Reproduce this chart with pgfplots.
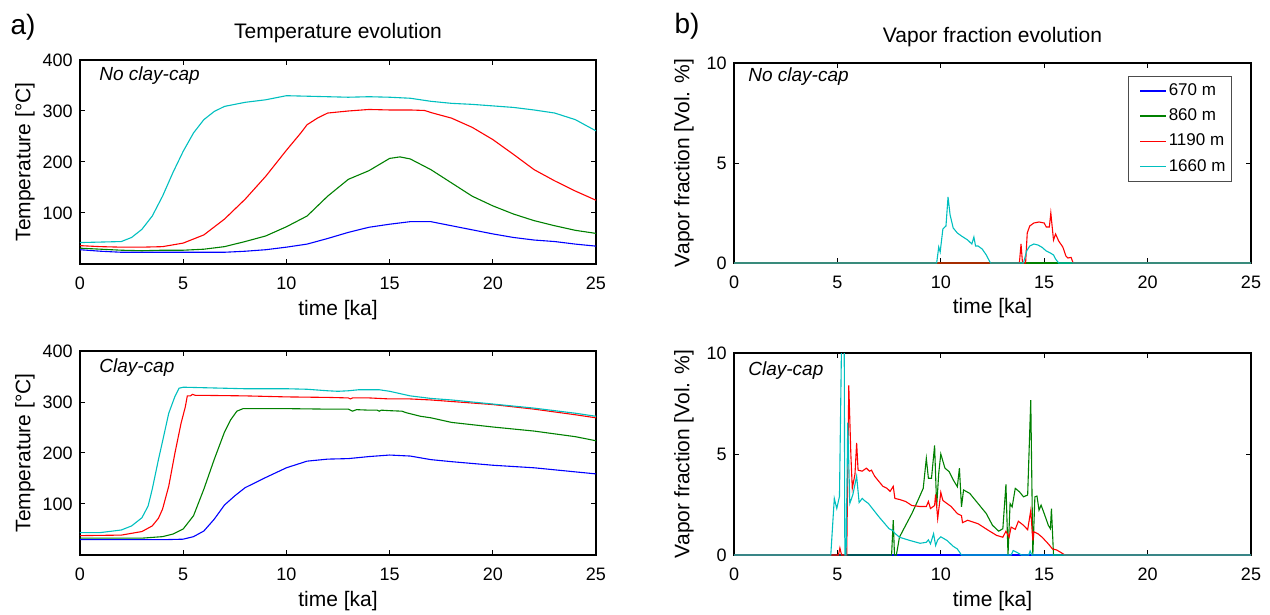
\documentclass[border=0pt]{standalone}
\usepackage{fontspec}
\setmainfont{Liberation Sans}
\usepackage{pgfplots}
\pgfplotsset{compat=1.18}
\definecolor{mblue}{rgb}{0,0,1}
\definecolor{mgreen}{rgb}{0,0.5,0}
\definecolor{mred}{rgb}{1,0,0}
\definecolor{mcyan}{rgb}{0,0.75,0.75}
\tikzset{tag/.style={anchor=west, inner sep=0pt, font=\itshape\fontsize{9.5}{11}\selectfont}}
\pgfplotsset{
  panel/.style={
    scale only axis, anchor=north west,
    xmin=0, xmax=25, xtick={0,5,10,15,20,25},
    tick align=inside, tick pos=both,
    major tick length=2.5pt,
    every tick/.style={black, line width=0.5pt},
    axis line style={line width=0.75pt},
    /pgf/number format/assume math mode=true,
    ticklabel style={font=\fontsize{9}{10}\selectfont},
    xticklabel style={anchor=north, inner sep=0pt, yshift=-6.3pt},
    yticklabel style={anchor=east, inner sep=0pt, xshift=-3.5pt},
    label style={font=\fontsize{10.5}{12}\selectfont},
    title style={font=\fontsize{10.5}{12}\selectfont, at={(rel axis cs:0.5,1.072)}, anchor=center},
    every axis plot/.append style={line width=0.55pt},
    xlabel={time [ka]},
    xlabel style={at={(rel axis cs:0.5,-0.226)}, anchor=center},
  },
  tpanel/.style={panel, ymin=0, ymax=400, ytick={100,200,300,400},
    ylabel={Temperature [°C]},
    ylabel style={at={(rel axis cs:-0.1066,0.5)}, anchor=center}},
  vpanel/.style={panel, ymin=0, ymax=10, ytick={0,5,10},
    ylabel={Vapor fraction [Vol. \%]},
    ylabel style={at={(rel axis cs:-0.0967,0.5)}, anchor=center}},
}
\begin{document}
\begin{tikzpicture}
\path[use as bounding box] (0,0) rectangle (635pt,-307.5pt);
\node[font=\fontsize{14}{16}\selectfont] at (11.5pt,-13.5pt) {a)};
\node[font=\fontsize{14}{16}\selectfont] at (343.5pt,-13pt) {b)};

% ---------- top left
\begin{axis}[tpanel, at={(40pt,-30pt)}, width=258pt, height=102pt,
  title={Temperature evolution}]
\addplot[mblue] coordinates {(0,28) (1,25) (2,23) (4,23) (6,23) (7,23) (8,25) (9,28) (10,33) (11,39) (12,50) (13,62) (14,72) (15,78) (16,83) (17,83) (18,75) (19,67) (20,59) (21,52) (22,47) (23,44) (24,39) (25,35)};
\addplot[mgreen] coordinates {(0,31) (1,29) (2,27) (3,26) (4,27) (5,27) (6,29) (7,34) (8,44) (9,55) (10,73) (11,94) (12,133) (13,166) (14,183) (14.5,195) (15,207) (15.5,210) (16,206) (17,185) (18,159) (19,133) (20,114) (21,98) (22,85) (23,75) (24,66) (25,60)};
\addplot[mred] coordinates {(0,36) (1,34) (2,33) (3,33) (4,34) (5,41) (6,57) (7,88) (8,127) (9,172) (10,223) (10.7,257) (11,273) (11.5,286) (12,296) (13,300) (14,303) (15,302) (16,302) (16.7,301) (17,297) (18,286) (19,268) (20,244) (21,215) (22,185) (23,163) (24,143) (25,125)};
\addplot[mcyan] coordinates {(0,42) (2,44) (2.5,52) (3,68) (3.5,94) (4,133) (4.5,179) (5,221) (5.5,257) (6,283) (6.5,299) (7,309) (8,317) (9,322) (10,330) (11,329) (12,328) (13,327) (14,328) (15,327) (16,325) (17,319) (18,315) (19,313) (20,310) (21,307) (22,302) (23,296) (24,283) (25,261)};
\node[tag] at (rel axis cs:0.0368,0.926) {No clay-cap};
\end{axis}

% ---------- top right
\begin{axis}[vpanel, at={(367pt,-31.5pt)}, width=258.5pt, height=100pt,
  title={Vapor fraction evolution},
  legend style={at={(rel axis cs:0.963,0.935)}, anchor=north east,
    draw=black!70, font=\fontsize{8.5}{10}\selectfont,
    inner xsep=2pt, inner ysep=2.5pt, row sep=3.2pt,
    nodes={inner sep=1pt}},
  legend cell align=left,
  legend image code/.code={\draw[draw=none] (-4pt,-1pt) rectangle (13pt,1pt); \draw[#1] (0pt,0pt) -- (13pt,0pt);},
  legend image post style={line width=0.7pt}]
\addplot[mblue] coordinates {(0,0) (25,0)};
\addlegendentry{670 m}
\addplot[mgreen] coordinates {(0,0) (25,0)};
\addlegendentry{860 m}
\addplot[color=mred] coordinates {(0,0) (13.8,0) (13.88,0.95) (13.95,0) (14.1,0) (14.18,1.5) (14.3,1.85) (14.5,2.0) (14.75,2.05) (15.0,2.0) (15.1,1.8) (15.25,1.8) (15.32,2.5) (15.45,1.15) (15.55,1.45) (15.7,1.1) (15.9,0.8) (16.05,0.35) (16.15,0.25) (16.3,0.28) (16.4,0) (25,0)};
\addlegendentry{1190 m}
\addplot[mcyan] coordinates {(0,0) (9.8,0) (9.9,0.8) (9.97,0.55) (10.1,1.7) (10.25,1.85) (10.35,3.3) (10.45,2.4) (10.6,1.75) (10.8,1.5) (11.0,1.35) (11.3,1.15) (11.5,0.95) (11.6,1.3) (11.68,0.85) (11.8,0.85) (12.0,0.7) (12.2,0.4) (12.4,0) (14.0,0) (14.15,0.6) (14.3,0.85) (14.5,0.95) (14.7,0.9) (14.9,0.78) (15.1,0.6) (15.3,0.5) (15.45,0.4) (15.55,0.2) (15.7,0) (25,0)};
\addlegendentry{1660 m}
\node[tag] at (rel axis cs:0.027,0.93) {No clay-cap};
\end{axis}

% ---------- bottom left
\begin{axis}[tpanel, at={(40pt,-175.5pt)}, width=258pt, height=102pt]
\addplot[mblue] coordinates {(0,30) (4,30) (5,31) (5.5,36) (6,47) (6.5,70) (7,98) (7.5,116) (8,132) (9,152) (10,171) (11,184) (12,188) (13,189) (14,193) (15,196) (16,194) (17,187) (18,183) (20,176) (22,171) (24,163) (25,159)};
\addplot[mgreen] coordinates {(0,33) (3,33) (4,36) (4.5,41) (5,51) (5.5,77) (6,129) (6.5,187) (7,241) (7.3,265) (7.6,282) (7.9,287) (10,287) (12,286) (13,286) (13.2,282) (13.4,285) (14,284) (14.4,284) (14.5,282) (14.6,284) (15,283) (15.6,282) (15.8,279) (16,277) (16.5,272) (17,269) (18,260) (20,251) (22,243) (24,232) (25,224)};
\addplot[mred] coordinates {(0,38) (2,39) (3,46) (3.5,57) (3.8,72) (4,90) (4.3,135) (4.6,200) (4.9,259) (5.1,290) (5.2,312) (5.35,312) (5.45,315) (5.6,313) (6,313) (8,312) (10,310) (12,309) (13,308) (13.1,306) (13.2,308) (14,308) (15,306) (16,306) (17,304) (18,301) (20,295) (22,286) (24,275) (25,269)};
\addplot[mcyan] coordinates {(0,44) (1,44) (2,49) (2.5,57) (3,73) (3.3,96) (3.5,129) (3.8,187) (4,223) (4.3,278) (4.6,311) (4.8,327) (5,329) (6,328) (8,326) (10,326) (11,325) (12,322) (12.5,321) (13,322) (13.5,324) (14.5,324) (15,321) (16,312) (17,307) (18,304) (20,296) (22,288) (24,278) (25,272)};
\node[tag] at (rel axis cs:0.0368,0.917) {Clay-cap};
\end{axis}

% ---------- bottom right
\begin{axis}[vpanel, at={(367pt,-176.5pt)}, width=258.5pt, height=101pt]
\addplot[mblue] coordinates {(0,0) (25,0)};
\addplot[mgreen] coordinates {(0,0) (7.62,0) (7.7,1.72) (7.76,0) (7.85,0) (7.92,0.4) (8.0,0.88) (8.3,1.47) (8.6,2.05) (8.9,2.72) (9.15,3.3) (9.3,4.78) (9.4,3.8) (9.55,3.8) (9.7,5.42) (9.8,2.4) (9.9,4.05) (10.0,5.0) (10.2,4.3) (10.4,4.13) (10.6,3.72) (10.8,3.38) (10.9,4.3) (11.0,2.38) (11.1,3.22) (11.4,3.05) (11.8,2.55) (12.2,2.05) (12.5,1.47) (12.8,1.18) (13.0,1.3) (13.15,3.5) (13.25,0) (13.35,2.55) (13.45,2.38) (13.6,3.3) (13.8,3.13) (14.0,2.88) (14.2,2.97) (14.35,7.67) (14.45,0) (14.55,2.88) (14.65,2.92) (14.75,2.22) (14.85,2.47) (15.0,2.05) (15.2,1.47) (15.3,1.3) (15.35,2.3) (15.45,0) (25,0)};
\addplot[mred] coordinates {(0,0) (5.05,0) (5.12,0.35) (5.2,0) (5.45,0) (5.5,4.0) (5.55,8.4) (5.65,5.0) (5.72,3.3) (5.85,4.0) (5.93,5.55) (6.0,4.2) (6.2,4.15) (6.4,4.3) (6.55,4.15) (6.65,4.2) (6.8,3.9) (7.0,3.65) (7.2,3.4) (7.4,3.3) (7.55,3.15) (7.7,3.4) (7.78,2.8) (8.0,2.75) (8.3,2.65) (8.6,2.45) (9.0,2.4) (9.3,2.4) (9.4,2.65) (9.5,2.3) (9.7,2.45) (9.75,3.0) (9.85,1.8) (10.0,3.1) (10.1,2.7) (10.5,2.4) (10.8,2.05) (11.0,1.95) (11.05,1.6) (11.3,1.72) (11.8,1.55) (12.3,1.22) (12.7,0.97) (13.0,0.88) (13.15,1.18) (13.3,0.88) (13.4,1.38) (13.6,1.27) (13.75,1.67) (14.0,1.47) (14.2,1.25) (14.35,2.2) (14.45,0.72) (14.5,1.15) (14.7,1.05) (14.9,0.88) (15.2,0.55) (15.4,0.3) (15.6,0.25) (15.8,0.13) (16.0,0) (25,0)};
\addplot[mcyan] coordinates {(0,0) (4.68,0) (4.85,2.8) (4.97,2.3) (5.1,2.9) (5.2,10.5) (5.27,13) (5.33,10.5) (5.36,0) (5.42,0) (5.5,6.55) (5.6,2.55) (5.75,3.0) (5.93,3.9) (6.05,2.6) (6.2,2.8) (6.3,2.7) (6.5,2.55) (7.0,1.9) (7.5,1.3) (7.7,1.2) (7.75,1.1) (8.0,0.88) (8.5,0.72) (9.0,0.58) (9.3,0.63) (9.4,0.75) (9.5,0.55) (9.65,1.05) (9.75,0.47) (9.85,0.75) (10.0,0.9) (10.3,0.72) (10.6,0.43) (10.8,0.3) (10.9,0.15) (11.0,0) (13.4,0) (13.5,0.22) (13.7,0.12) (13.9,0) (14.25,0) (14.32,0.2) (14.4,0) (25,0)};
\node[tag] at (rel axis cs:0.027,0.915) {Clay-cap};
\end{axis}
\end{tikzpicture}
\end{document}
